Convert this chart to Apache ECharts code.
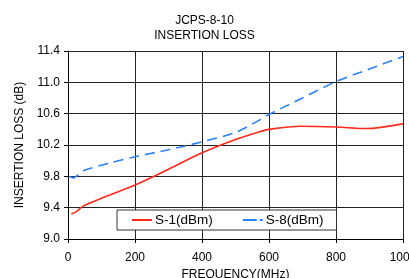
<!DOCTYPE html>
<html>
<head>
<meta charset="utf-8">
<script src="https://cdn.jsdelivr.net/npm/echarts@6/dist/echarts.min.js"></script>
<style>
  html, body { margin: 0; padding: 0; background: #fff; }
  #chart { width: 409px; height: 278px; }
</style>
</head>
<body>
<div id="chart"></div>
<script>
// values
var freqS1 = [10, 25, 45, 100, 200, 300, 400, 500, 572, 600, 692, 800, 890, 1000]
var lossS1 = [9.32, 9.35, 9.42, 9.52, 9.69, 9.89, 10.10, 10.27, 10.37, 10.40, 10.44, 10.43, 10.41, 10.47]
var freqS8 = [5, 15, 45, 125, 200, 300, 400, 500, 572, 600, 700, 800, 900, 1000]
var lossS8 = [9.80, 9.78, 9.87, 9.97, 10.05, 10.14, 10.24, 10.36, 10.52, 10.59, 10.80, 11.01, 11.17, 11.33]

function pairs (xs, ys) {
  return xs.map(function (x, i) { return [x, ys[i]] })
}

var myChart = echarts.init(document.getElementById('chart'))
var font = 'Liberation Sans, Arial, sans-serif'
myChart.setOption({
  animation: false,
  title: {
    text: 'JCPS-8-10\nINSERTION LOSS',
    left: 'center',
    top: 8,
    textStyle: { fontFamily: font, fontSize: 12, fontWeight: 'normal', color: '#000', lineHeight: 15 }
  },
  grid: { left: 68, right: 6, top: 51, bottom: 39, outerBoundsMode: 'none', containLabel: false },
  legend: {
    left: 117,
    top: 210,
    padding: [3, 13, 3, 15],
    itemGap: 30,
    itemWidth: 20,
    itemHeight: 2,
    borderColor: '#333',
    borderWidth: 1,
    borderRadius: 0,
    backgroundColor: '#fff',
    textStyle: { fontFamily: font, fontSize: 13.5, color: '#000', padding: [0, 0, 0, -2] },
    data: [
      { name: 'S-1(dBm)', icon: 'path://M0,0H20V2H0Z' },
      { name: 'S-8(dBm)', icon: 'path://M0,0H14V2H0Z M17,0H20V2H17Z' }
    ]
  },
  xAxis: {
    type: 'value',
    min: 0,
    max: 1000,
    interval: 200,
    name: 'FREQUENCY(MHz)',
    nameLocation: 'middle',
    nameGap: 29,
    nameTextStyle: { fontFamily: font, fontSize: 12, color: '#000' },
    axisLine: { show: true, lineStyle: { color: '#000' } },
    axisTick: { show: true, length: 4, lineStyle: { color: '#000' } },
    axisLabel: {
      fontFamily: font, fontSize: 12, color: '#000', margin: 13,
      formatter: function (v) { return String(v) }
    },
    splitLine: { show: true, lineStyle: { color: '#222', width: 1 } }
  },
  yAxis: {
    type: 'value',
    min: 9.0,
    max: 11.4,
    interval: 0.4,
    name: 'INSERTION LOSS (dB)',
    nameLocation: 'middle',
    nameGap: 42,
    nameTextStyle: { fontFamily: font, fontSize: 12, color: '#000' },
    axisLine: { show: true, lineStyle: { color: '#000' } },
    axisTick: { show: true, length: 4, lineStyle: { color: '#000' } },
    axisLabel: {
      fontFamily: font, fontSize: 12, color: '#000', margin: 8,
      formatter: function (v) { return v.toFixed(1) }
    },
    splitLine: { show: true, lineStyle: { color: '#222', width: 1 } }
  },
  series: [
    {
      name: 'S-1(dBm)',
      type: 'line',
      smooth: 0.3,
      symbol: 'none',
      color: '#ff2a1a',
      lineStyle: { color: '#ff2a1a', width: 1.6 },
      data: pairs(freqS1, lossS1)
    },
    {
      name: 'S-8(dBm)',
      type: 'line',
      smooth: 0.3,
      symbol: 'none',
      color: '#2a80ff',
      lineStyle: { color: '#2a80ff', width: 1.6, type: [10, 6] },
      data: pairs(freqS8, lossS8)
    }
  ]
})
</script>
</body>
</html>
